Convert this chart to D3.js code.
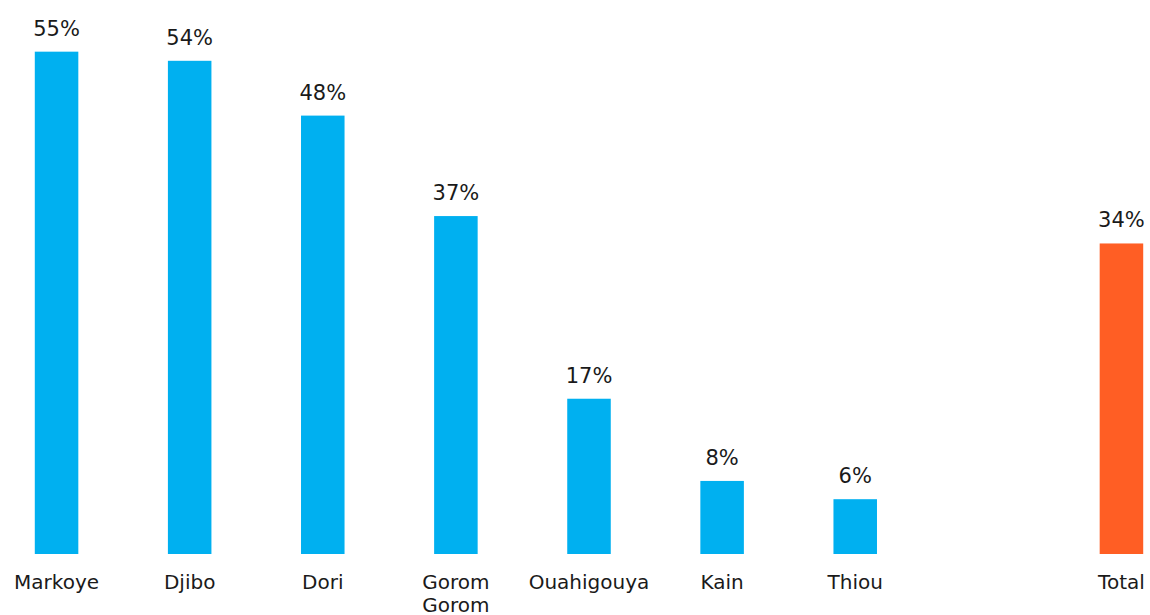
<!DOCTYPE html>
<html>
<head>
<meta charset="utf-8">
<script src="https://cdn.jsdelivr.net/npm/d3@7"></script>
<style>
  html, body { margin: 0; padding: 0; background: #fff; }
  svg { display: block; }
  text { font-family: "DejaVu Sans", sans-serif; fill: #1a1a1a; }
</style>
</head>
<body>
<svg id="chart" width="1150" height="615"></svg>
<script>
// Share per commune, with the overall total kept apart after an empty slot
const categories = ["Markoye", "Djibo", "Dori", "Gorom Gorom", "Ouahigouya", "Kain", "Thiou", "", "Total"];
const values = [55, 54, 48, 37, 17, 8, 6, null, 34];
const labelLines = [["Markoye"], ["Djibo"], ["Dori"], ["Gorom", "Gorom"], ["Ouahigouya"], ["Kain"], ["Thiou"], [], ["Total"]];

const BLUE = "#00B0F0";
const ORANGE = "#FF5E24";

const svg = d3.select("#chart");
const baseline = 554;

const x = d3.scaleBand()
  .domain(categories.map((c, i) => i))
  .range([-10, 1188])
  .paddingInner(0.673)
  .paddingOuter(0.3365)
  .align(0.5);

const y = d3.scaleLinear().domain([0, 60]).range([baseline, 6]);

const data = categories.map((c, i) => ({ i, c, v: values[i], lines: labelLines[i] }))
  .filter(d => d.v !== null);

svg.append("g").selectAll("rect")
  .data(data)
  .join("rect")
  .attr("x", d => x(d.i))
  .attr("width", x.bandwidth())
  .attr("y", d => y(d.v))
  .attr("height", d => y(0) - y(d.v))
  .attr("fill", d => d.c === "Total" ? ORANGE : BLUE);

// value labels above each bar
svg.append("g").selectAll("text")
  .data(data)
  .join("text")
  .attr("x", d => x(d.i) + x.bandwidth() / 2)
  .attr("y", d => y(d.v) - 16)
  .attr("text-anchor", "middle")
  .attr("font-size", 21)
  .text(d => d.v + "%");

// category labels under the baseline
const cat = svg.append("g").selectAll("text")
  .data(data)
  .join("text")
  .attr("x", d => x(d.i) + x.bandwidth() / 2)
  .attr("y", 589)
  .attr("text-anchor", "middle")
  .attr("font-size", 20);

cat.selectAll("tspan")
  .data(d => d.lines.map(l => ({ l, cx: x(d.i) + x.bandwidth() / 2 })))
  .join("tspan")
  .attr("x", t => t.cx)
  .attr("dy", (t, k) => k === 0 ? 0 : 23)
  .text(t => t.l);
</script>
</body>
</html>
